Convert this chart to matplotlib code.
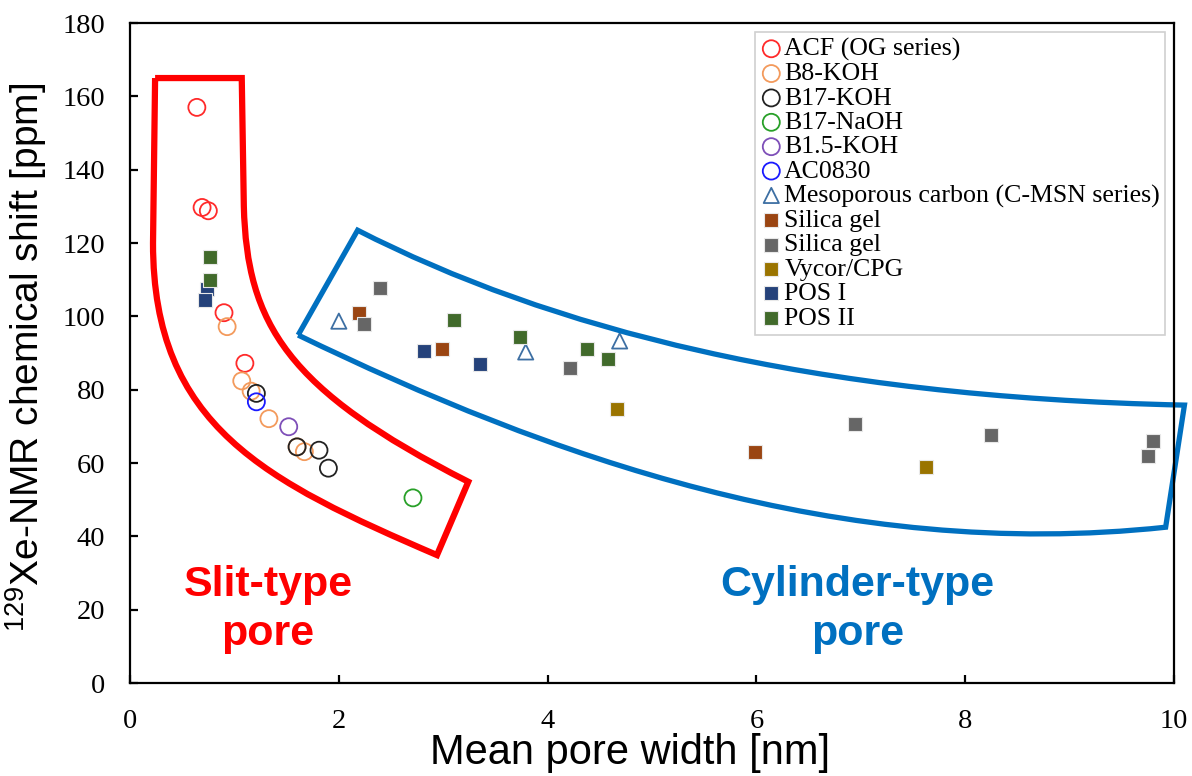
import numpy as np
import matplotlib
matplotlib.use("Agg")
import matplotlib.pyplot as plt
from matplotlib.path import Path
from matplotlib.patches import PathPatch

plt.rcParams['font.family'] = ['Liberation Sans', 'DejaVu Sans']
plt.rcParams['mathtext.default'] = 'regular'

# data: (pore width nm, chemical shift ppm)
acf_x = [0.64, 0.69, 0.75, 0.90, 1.10]
acf_y = [157.0, 129.7, 128.8, 101.0, 87.2]
b8_x = [0.93, 1.07, 1.16, 1.33, 1.60, 1.67]
b8_y = [97.2, 82.4, 79.6, 72.1, 64.4, 63.1]
b17k_x = [1.21, 1.60, 1.81, 1.90]
b17k_y = [79.0, 64.4, 63.5, 58.6]
b17na_x = [2.71]
b17na_y = [50.5]
b15_x = [1.52]
b15_y = [69.9]
ac0830_x = [1.21]
ac0830_y = [76.7]
meso_x = [2.00, 3.79, 4.69]
meso_y = [98.7, 90.3, 93.3]
silica_br_x = [2.19, 2.99, 5.99]
silica_br_y = [101.0, 91.1, 63.1]
silica_gr_x = [2.39, 2.24, 4.21, 6.94, 8.25, 9.80, 9.75]
silica_gr_y = [107.8, 97.9, 85.8, 70.7, 67.6, 65.9, 61.8]
vycor_x = [4.66, 7.62]
vycor_y = [74.8, 58.9]
pos1_x = [0.74, 0.72, 2.82, 3.35]
pos1_y = [107.4, 104.4, 90.5, 87.1]
pos2_x = [0.77, 0.77, 3.10, 3.74, 4.38, 4.58]
pos2_y = [116.1, 109.9, 99.0, 94.3, 91.1, 88.4]

# outline of the hand-drawn regions (data coordinates)
slit_pts = [(0.24, 165), (1.07, 165), (1.09, 130), (1.12, 98), (1.5, 80), (3.24, 54.9),
            (2.94, 34.9), (1.3, 55), (0.22, 70), (0.22, 120), (0.24, 165)]
slit_codes = [Path.MOVETO, Path.LINETO, Path.LINETO, Path.CURVE4, Path.CURVE4, Path.CURVE4,
              Path.LINETO, Path.CURVE4, Path.CURVE4, Path.CURVE4, Path.LINETO]
cyl_pts = [(1.61, 94.9), (2.18, 123.5), (4.0, 97), (6.5, 78), (10.1, 75.8),
           (9.92, 42.5), (6.8, 33), (4.0, 62), (1.61, 94.9)]
cyl_codes = [Path.MOVETO, Path.LINETO, Path.CURVE4, Path.CURVE4, Path.CURVE4,
             Path.LINETO, Path.CURVE4, Path.CURVE4, Path.CURVE4]

fig = plt.figure(figsize=(11.92, 7.76), dpi=100)
ax = fig.add_axes([0.1091, 0.1198, 0.8758, 0.8505])

circ = dict(marker='o', s=150, facecolors='none', linewidths=1.3)
sq = dict(marker='s', s=110, edgecolors='#e8e8e8', linewidths=0.8)

ax.scatter(acf_x, acf_y, edgecolors='#ff2a2a', label='ACF (OG series)', **circ)
ax.scatter(b8_x, b8_y, edgecolors='#f39a5c', label='B8-KOH', **circ)
ax.scatter(b17k_x, b17k_y, edgecolors='#222222', label='B17-KOH', **circ)
ax.scatter(b17na_x, b17na_y, edgecolors='#28a028', label='B17-NaOH', **circ)
ax.scatter(b15_x, b15_y, edgecolors='#7e4fb8', label='B1.5-KOH', **circ)
ax.scatter(ac0830_x, ac0830_y, edgecolors='#1a1aff', label='AC0830', **circ)
ax.scatter(meso_x, meso_y, marker='^', s=120, facecolors='none', edgecolors='#3d6fa3',
           linewidths=1.3, label='Mesoporous carbon (C-MSN series)')
ax.scatter(silica_br_x, silica_br_y, c='#9a4512', label='Silica gel', **sq)
ax.scatter(silica_gr_x, silica_gr_y, c='#666666', label='Silica gel', **sq)
ax.scatter(vycor_x, vycor_y, c='#9a7400', label='Vycor/CPG', **sq)
ax.scatter(pos1_x, pos1_y, c='#25427a', label='POS I', **sq)
ax.scatter(pos2_x, pos2_y, c='#416a2b', label='POS II', **sq)

ax.add_patch(PathPatch(Path(slit_pts, slit_codes), fill=False, edgecolor='#ff0000',
                       lw=4.5, joinstyle='miter', clip_on=False, zorder=1))
ax.add_patch(PathPatch(Path(cyl_pts, cyl_codes), fill=False, edgecolor='#0070c0',
                       lw=3.8, joinstyle='miter', clip_on=False, zorder=1))

ax.text(1.32, 20.0, 'Slit-type\npore', color='#ff0000', fontsize=31, fontweight='bold',
        ha='center', va='center', linespacing=1.3)
ax.text(6.97, 20.0, 'Cylinder-type\npore', color='#0070c0', fontsize=31, fontweight='bold',
        ha='center', va='center', linespacing=1.3)

ax.set_xlim(0, 10)
ax.set_ylim(0, 180)
ax.set_xticks(np.arange(0, 11, 2))
ax.set_yticks(np.arange(0, 181, 20))
for sp in ax.spines.values():
    sp.set_linewidth(1.6)
ax.tick_params(direction='in', length=6, width=1.6)
ax.tick_params(axis='x', pad=19)
ax.tick_params(axis='y', pad=18)
for lab in ax.get_xticklabels() + ax.get_yticklabels():
    lab.set_family('Liberation Serif')
    lab.set_fontsize(20.5)

ax.set_xlabel('Mean pore width [nm]', fontsize=30)
ax.xaxis.set_label_coords(0.479, -0.075)
ax.set_ylabel('$^{129}$Xe-NMR chemical shift [ppm]', fontsize=28)
ax.yaxis.set_label_coords(-0.078, 0.494)

leg = ax.legend(loc='upper right', bbox_to_anchor=(0.9915, 0.986), borderaxespad=0,
                prop={'family': 'Liberation Serif', 'size': 18.6}, scatterpoints=1,
                labelspacing=0.05, handletextpad=0.05, handlelength=0.9,
                borderpad=0.2, fancybox=False, framealpha=1)
leg.get_frame().set_edgecolor('#d0d0d0')
leg.get_frame().set_linewidth(1.2)

fig.savefig('out.png', dpi=100)
